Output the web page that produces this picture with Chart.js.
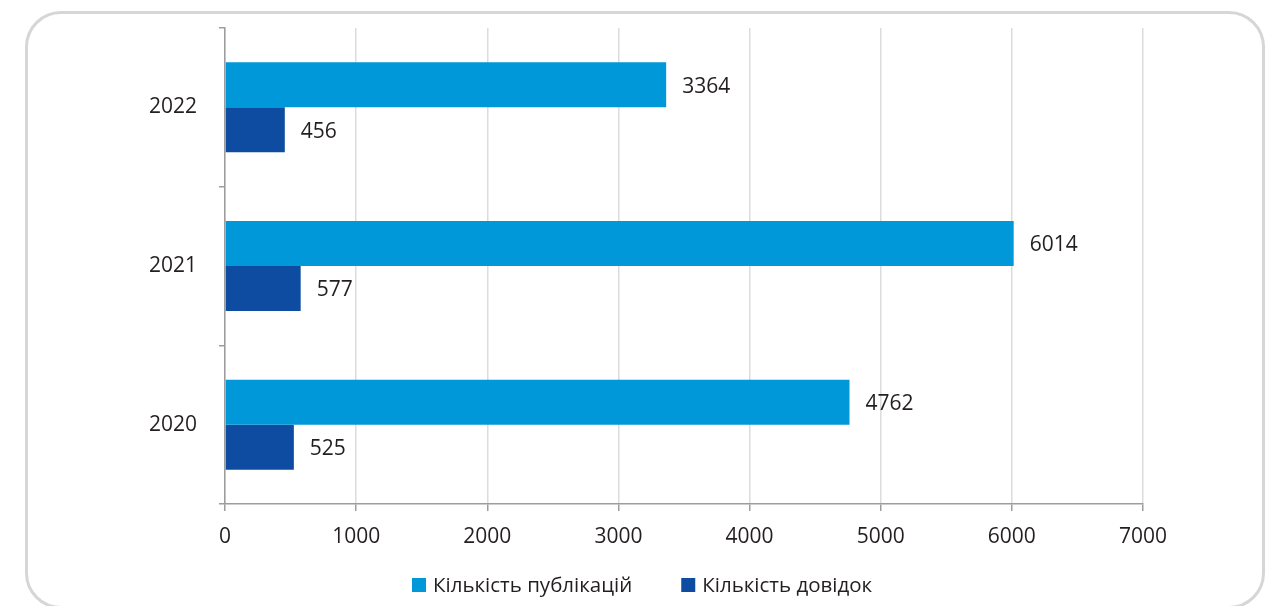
<!DOCTYPE html>
<html>
<head>
<meta charset="utf-8">
<script src="https://cdn.jsdelivr.net/npm/chart.js@4.4.0/dist/chart.umd.min.js"></script>
<style>
  html, body { margin: 0; padding: 0; background: #ffffff; overflow: hidden; }
  #frame { position: absolute; left: 25px; top: 11px; width: 1234px; height: 592px;
           border: 3px solid #d6d6d6; border-radius: 36px; }
  #wrap { position: absolute; left: 0; top: 0; width: 1278px; height: 606px; }
</style>
</head>
<body>
<div id="frame"></div>
<div id="wrap"><canvas id="c" width="1278" height="606"></canvas></div>
<script>
const categories = ['2022', '2021', '2020'];
const publications = [3364, 6014, 4762];
const references = [456, 577, 525];
const seriesNames = ['Кількість публікацій', 'Кількість довідок'];
const xTicks = [0, 1000, 2000, 3000, 4000, 5000, 6000, 7000];

const FONT = '"Open Sans", "Noto Sans", sans-serif';
const FSIZE = 21;
const TEXT = '#231f20';
const colors = ['#0098d9', '#0d4ca0'];

const valueLabels = {
  id: 'valueLabels',
  afterDatasetsDraw(chart) {
    const ctx = chart.ctx;
    ctx.save();
    ctx.font = FSIZE + 'px ' + FONT;
    ctx.fillStyle = TEXT;
    ctx.textAlign = 'left';
    ctx.textBaseline = 'middle';
    chart.data.datasets.forEach((ds, di) => {
      chart.getDatasetMeta(di).data.forEach((bar, i) => {
        ctx.fillText(String(ds.data[i]), bar.x + 16, bar.y + 2);
      });
    });
    ctx.restore();
  }
};

const customLegend = {
  id: 'customLegend',
  afterDraw(chart) {
    const ctx = chart.ctx;
    ctx.save();
    ctx.font = '20.5px ' + FONT;
    ctx.textBaseline = 'middle';
    ctx.textAlign = 'left';
    const box = 14, gapText = 7, gapItems = 49;
    const widths = chart.data.datasets.map(d => ctx.measureText(d.label).width);
    let x = 412;
    const y = 585;
    chart.data.datasets.forEach((d, i) => {
      ctx.fillStyle = d.backgroundColor;
      ctx.fillRect(x, y - box / 2, box, box);
      ctx.fillStyle = TEXT;
      ctx.fillText(d.label, x + box + gapText, y + 1);
      x += box + gapText + widths[i] + gapItems;
    });
    ctx.restore();
  }
};

new Chart(document.getElementById('c'), {
  type: 'bar',
  data: {
    labels: categories,
    datasets: [
      { label: seriesNames[0], data: publications, backgroundColor: colors[0] },
      { label: seriesNames[1], data: references, backgroundColor: colors[1] }
    ]
  },
  options: {
    indexAxis: 'y',
    responsive: false,
    animation: false,
    events: [],
    datasets: { bar: { categoryPercentage: 0.567, barPercentage: 1.0 } },
    layout: { padding: { top: 28, right: 135, bottom: 0, left: 0 } },
    plugins: { legend: { display: false }, tooltip: { enabled: false } },
    scales: {
      x: {
        min: 0, max: 7000,
        afterBuildTicks(scale) { scale.ticks = xTicks.map(v => ({ value: v })); },
        afterFit(scale) { scale.height = 102; },
        grid: { color: '#dcdcdc', lineWidth: 1.5, tickColor: '#9d9d9d', tickLength: 7, drawTicks: true },
        border: { color: '#9d9d9d', width: 1.5 },
        ticks: { color: TEXT, font: { family: FONT, size: FSIZE }, padding: 13, maxRotation: 0,
                 callback: (v) => String(v) }
      },
      y: {
        afterFit(scale) { scale.width = 225; scale.paddingTop = 0; scale.paddingBottom = 0; },
        grid: { offset: true, drawOnChartArea: false, drawTicks: true, tickLength: 6, tickColor: '#9d9d9d', lineWidth: 1.5 },
        border: { color: '#9d9d9d', width: 1.5 },
        ticks: { color: TEXT, font: { family: FONT, size: FSIZE }, padding: 22 }
      }
    }
  },
  plugins: [valueLabels, customLegend]
});
</script>
</body>
</html>
